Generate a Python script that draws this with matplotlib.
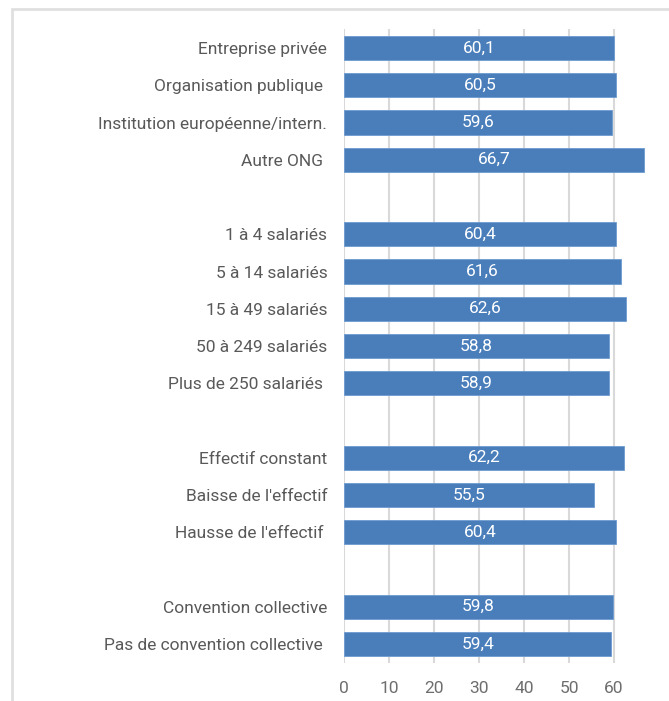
import numpy as np
from matplotlib import pyplot as plt
from matplotlib.patches import Rectangle

plt.rcParams['font.family'] = ['Roboto', 'DejaVu Sans']

# rows from top to bottom, None = empty separator row
categories = ["Entreprise privée", "Organisation publique ", "Institution européenne/intern.", "Autre ONG ",
              None,
              "1 à 4 salariés", "5 à 14 salariés", "15 à 49 salariés", "50 à 249 salariés", "Plus de 250 salariés ",
              None,
              "Effectif constant", "Baisse de l'effectif", "Hausse de l'effectif ",
              None,
              "Convention collective", "Pas de convention collective "]
values = [60.1, 60.5, 59.6, 66.7,
          None,
          60.4, 61.6, 62.6, 58.8, 58.9,
          None,
          62.2, 55.5, 60.4,
          None,
          59.8, 59.4]
xticks = [0, 10, 20, 30, 40, 50, 60]

bar_color = '#4a7ebb'
text_gray = '#595959'
grid_gray = '#d9d9d9'

fig = plt.figure(figsize=(6.69, 7.01), dpi=100)
ax = fig.add_axes([344 / 669, 1 - 662.6 / 701, 315 / 669, 633.2 / 701])

# frame around the chart (only top/left visible)
fig.patches.append(Rectangle((12 / 669, -0.1), 1.2, 1 - 9 / 701 + 0.1, transform=fig.transFigure,
                             fill=False, edgecolor='#e0e0e0', linewidth=2))

for x in xticks:
    ax.axvline(x, color=grid_gray, linewidth=1.5, zorder=0)

rows = [i for i, v in enumerate(values) if v is not None]
vals = [values[i] for i in rows]
ax.barh(rows, vals, height=0.65, color=bar_color, edgecolor='#6f9bd1', linewidth=0.6, zorder=2)
for r, v in zip(rows, vals):
    ax.text(v / 2, r, f"{v:.1f}".replace('.', ','), ha='center', va='center',
            color='white', fontsize=12.5, zorder=3)

ax.set_yticks(rows)
ax.set_yticklabels([categories[i] for i in rows], color=text_gray, fontsize=12.5)
ax.set_xticks(xticks)
ax.set_xticklabels([str(x) for x in xticks], color='#6e6e6e', fontsize=12.5)
ax.tick_params(axis='both', length=0)
ax.tick_params(axis='y', pad=12)
ax.tick_params(axis='x', pad=13)
ax.set_xlim(0, 70)
ax.set_ylim(16.5, -0.5)
for s in ax.spines.values():
    s.set_visible(False)

fig.savefig('out.png', dpi=100)
